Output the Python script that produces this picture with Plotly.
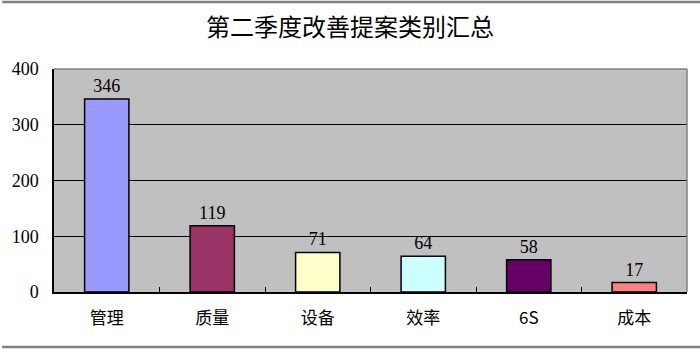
import plotly.graph_objects as go

categories = ["管理", "质量", "设备", "效率", "6S", "成本"]
values = [346, 119, 71, 64, 58, 17]
colors = ["#9999FF", "#993366", "#FFFFCC", "#CCFFFF", "#660066", "#FF8080"]
y_ticks = [0, 100, 200, 300, 400]
title = "第二季度改善提案类别汇总"

font_family = "Liberation Serif, Noto Sans CJK SC, serif"

fig = go.Figure(go.Bar(
    x=categories, y=values,
    marker=dict(color=colors, line=dict(color="black", width=1.5)),
    width=0.42,
    text=[str(v) for v in values], textposition="outside",
    textfont=dict(family=font_family, size=18, color="black"),
    cliponaxis=False,
))

fig.update_layout(
    width=700, height=352,
    margin=dict(l=52, r=13, t=69, b=60),
    paper_bgcolor="white", plot_bgcolor="#C0C0C0",
    showlegend=False,
    title=dict(text=title, x=0.5, xanchor="center", y=1 - 28/352, yanchor="middle",
               font=dict(family=font_family, size=24, color="black")),
    font=dict(family=font_family, color="black"),
)
fig.update_xaxes(
    showline=True, linecolor="black", linewidth=1.5, mirror=False,
    ticks="inside", tickson="boundaries", ticklen=5, tickcolor="black",
    tickfont=dict(size=17, family="Noto Sans CJK SC, serif"), showgrid=False,
    ticklabelstandoff=10,
)
fig.update_yaxes(
    range=[0, 400], tickvals=y_ticks, showline=True, linecolor="black", linewidth=1.5,
    showgrid=True, gridcolor="black", gridwidth=1.3, zeroline=False,
    tickfont=dict(size=18, family=font_family), ticks="", ticklabelstandoff=10,
)
# gray plot border top/right
fig.add_shape(type="line", xref="paper", yref="paper", x0=0, x1=1, y0=1, y1=1,
              line=dict(color="#808080", width=1.5))
fig.add_shape(type="line", xref="paper", yref="paper", x0=1, x1=1, y0=0, y1=1,
              line=dict(color="#808080", width=1.5))
# chart outer border top/bottom
fig.add_shape(type="line", xref="paper", yref="paper", x0=-52/635, x1=1+13/635,
              y0=1+67/223, y1=1+67/223, line=dict(color="#808080", width=2.5))
fig.add_shape(type="line", xref="paper", yref="paper", x0=-52/635, x1=1+13/635,
              y0=-55/223, y1=-55/223, line=dict(color="#808080", width=2.5))

fig.write_html("out.html")
